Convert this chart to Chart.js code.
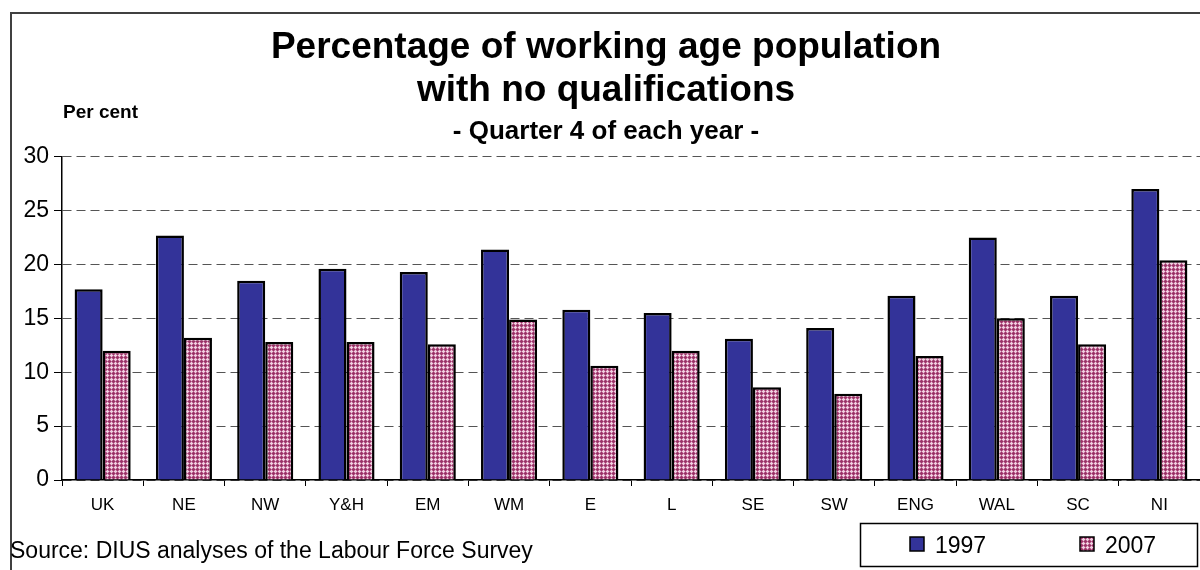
<!DOCTYPE html>
<html>
<head>
<meta charset="utf-8">
<script src="https://cdn.jsdelivr.net/npm/chart.js@4"></script>
<style>
  html, body { margin:0; background:#fff; }
  canvas { display:block; }
</style>
</head>
<body>
<canvas id="chart" width="1200" height="570"></canvas>
<script>
// values
const regions = ['UK','NE','NW','Y&H','EM','WM','E','L','SE','SW','ENG','WAL','SC','NI'];
const years = ['1997','2007'];
const values1997 = [17.7,22.7,18.5,19.6,19.3,21.4,15.8,15.5,13.1,14.1,17.1,22.5,17.1,27.0];
const values2007 = [12.0,13.2,12.8,12.8,12.6,14.9,10.6,12.0,8.6,8.0,11.5,15.0,12.6,20.4];
const yMin = 0, yMax = 30, yStep = 5;
const titleLines = ['Percentage of working age population','with no qualifications'];
const subtitleText = '- Quarter 4 of each year -';
const unitLabel = 'Per cent';
const sourceText = 'Source: DIUS analyses of the Labour Force Survey';

const FONT = '"Liberation Sans", Arial, sans-serif';

// small pink/magenta check used for the 2007 bars
function makeCheck(){
  const c = document.createElement('canvas');
  c.width = 4; c.height = 4;
  const g = c.getContext('2d');
  const map = ['LDLW','DDDL','LDLW','WLWW'];
  const col = {D:'#993366', L:'#c06a98', W:'#f0d0e0'};
  map.forEach((row,y)=>[...row].forEach((k,x)=>{ g.fillStyle = col[k]; g.fillRect(x,y,1,1); }));
  return g.createPattern(c,'repeat');
}
const checkFill = makeCheck();

// frame, unit label, source line and boxed legend
const extras = {
  id:'extras',
  afterDraw(chart){
    const ctx = chart.ctx;
    ctx.save();
    ctx.strokeStyle = '#404040';
    ctx.lineWidth = 2;
    ctx.strokeRect(11, 13, 1300, 700);

    ctx.fillStyle = '#000';
    ctx.textAlign = 'left';
    ctx.textBaseline = 'alphabetic';
    ctx.font = 'bold 19px ' + FONT;
    ctx.fillText(unitLabel, 63, 118);

    ctx.font = '23px ' + FONT;
    ctx.fillText(sourceText, 10, 558);

    ctx.strokeStyle = '#000';
    ctx.lineWidth = 1.5;
    ctx.strokeRect(860.5, 523.5, 337, 43);
    const xs = [910, 1080];
    chart.data.datasets.forEach((ds,i)=>{
      ctx.fillStyle = ds.backgroundColor;
      ctx.fillRect(xs[i], 537, 14, 14);
      ctx.strokeRect(xs[i], 537, 14, 14);
      ctx.fillStyle = '#000';
      ctx.fillText(ds.label, xs[i] + 25, 553);
    });
    ctx.restore();
  }
};

new Chart(document.getElementById('chart'), {
  type: 'bar',
  data: {
    labels: regions,
    datasets: [
      { label: years[0], data: values1997, backgroundColor: '#333399', borderColor: '#000', borderWidth: 2.5 },
      { label: years[1], data: values2007, backgroundColor: checkFill, borderColor: '#000', borderWidth: 2.5 }
    ]
  },
  options: {
    responsive: false,
    animation: false,
    devicePixelRatio: 1,
    categoryPercentage: 0.69,
    barPercentage: 1.0,
    layout: { padding: { top: 0, left: 12, right: 0, bottom: 0 } },
    plugins: {
      legend: { display: false },
      tooltip: { enabled: false },
      title: {
        display: true,
        text: titleLines,
        color: '#000',
        font: { family: FONT, size: 37, weight: 'bold', lineHeight: 1.16 },
        padding: { top: 26, bottom: 0 }
      },
      subtitle: {
        display: true,
        text: subtitleText,
        color: '#000',
        font: { family: FONT, size: 26, weight: 'bold', lineHeight: 1.15 },
        padding: { top: 5, bottom: 10 }
      }
    },
    scales: {
      x: {
        grid: { display: true, drawOnChartArea: false, drawTicks: true, tickLength: 6, tickColor: '#000', offset: true },
        border: { display: true, color: '#000', width: 1.5 },
        ticks: { color: '#000', font: { family: FONT, size: 17 }, padding: 9, maxRotation: 0, autoSkip: false },
        afterFit(s){ s.height = 90; }
      },
      y: {
        min: yMin, max: yMax,
        grid: { color: '#555', lineWidth: 1, tickLength: 8, tickColor: '#000', tickBorderDash: [] },
        border: { display: true, color: '#000', width: 1.5, dash: [9,5] },
        ticks: { stepSize: yStep, color: '#000', font: { family: FONT, size: 23 }, padding: 5 },
        afterFit(s){ s.width = 50; }
      }
    }
  },
  plugins: [extras]
});
</script>
</body>
</html>
